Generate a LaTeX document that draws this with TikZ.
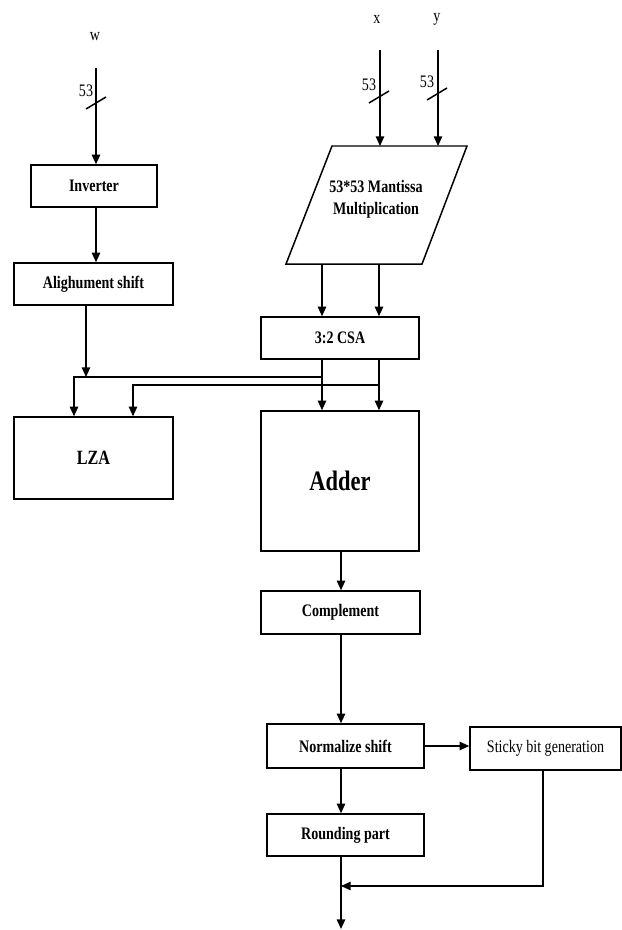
\documentclass[tikz,border=0pt]{standalone}
\usepackage{fontspec}
\setmainfont{Liberation Serif}[FakeStretch=0.8]
\usetikzlibrary{arrows.meta,calc}

% bus width mark: slash through a line plus its label
\newcommand{\buswidth}[1]{%
  \draw (#1) ++(-10,6) -- ++(20,-12);
  \node at ($(#1)+(-10,-12)$) {53};}

\begin{document}
\begin{tikzpicture}[x=0.02cm,y=-0.02cm,line width=0.85pt,
    >={Triangle[length=5.5pt,width=4.8pt]},font=\fontsize{10}{12}\selectfont,
    box/.style={draw,rectangle,inner sep=0pt,font=\fontsize{10}{12}\selectfont\bfseries}]
  \useasboundingbox (0,0) rectangle (622,930);

  % inputs
  \node (wlab) at (95,37) {w};
  \node (xlab) at (377,19) {x};
  \node (ylab) at (437,19) {y};
  \coordinate (win) at (96,68);
  \coordinate (xin) at (380,50);
  \coordinate (yin) at (438,50);

  % left branch
  \node[box,minimum width=126*0.02cm,minimum height=42*0.02cm] (inv) at (94,186) {Inverter};
  \node[box,minimum width=159*0.02cm,minimum height=42*0.02cm] (align) at (93.5,284) {Alighument shift};
  \node[box,minimum width=159*0.02cm,minimum height=82*0.02cm,font=\fontsize{11.5}{13}\selectfont\bfseries] (lza) at (93.5,458) {LZA};

  % multiplier
  \coordinate (pTL) at (332,146);
  \coordinate (pTR) at (467,146);
  \coordinate (pBR) at (422,264);
  \coordinate (pBL) at (286,264);
  \draw (pTL) -- (pTR) -- (pBR) -- (pBL) -- cycle;
  \node[align=center,font=\fontsize{10}{12.5}\selectfont\bfseries] (mul) at (376,199) {53*53 Mantissa\\Multiplication};

  % right branch
  \node[box,minimum width=158*0.02cm,minimum height=42*0.02cm] (csa) at (340,338) {3:2 CSA};
  \node[box,minimum width=158*0.02cm,minimum height=140*0.02cm,font=\fontsize{16}{18}\selectfont\bfseries] (adder) at (340,481) {Adder};
  \node[box,minimum width=159*0.02cm,minimum height=43*0.02cm] (compl) at (340.5,612.5) {Complement};
  \node[box,minimum width=157*0.02cm,minimum height=44*0.02cm] (norm) at (345.5,746) {Normalize shift};
  \node[draw,rectangle,inner sep=0pt,minimum width=151*0.02cm,minimum height=43*0.02cm] (sticky) at (545.5,748.5) {Sticky bit generation};
  \node[box,minimum width=157*0.02cm,minimum height=42*0.02cm] (round) at (345.5,835) {Rounding part};

  \coordinate (csaL) at (322,0);
  \coordinate (csaR) at (379,0);
  \coordinate (lzaL) at (74,0);
  \coordinate (lzaR) at (133,0);
  \coordinate (bus1) at (322,377);
  \coordinate (bus2) at (379,385);
  \coordinate (spine) at (341,0);
  \coordinate (stk) at (543,0);
  \coordinate (merge) at (341,886);
  \coordinate (out) at (341,929);

  % input arrows
  \draw[->] (win) -- (inv.north -| win);
  \buswidth{96,103}
  \draw[->] (xin) -- (pTL -| xin);
  \buswidth{379,97}
  \draw[->] (yin) -- (pTL -| yin);
  \buswidth{437,94}

  \draw[->] (inv.south -| win) -- (align.north -| win);
  \draw[->] (align.south -| 86,0) -- (86,377);

  \draw[->] (pBL -| csaL) -- (csa.north -| csaL);
  \draw[->] (pBL -| csaR) -- (csa.north -| csaR);
  \draw[->] (csa.south -| csaL) -- (adder.north -| csaL);
  \draw[->] (csa.south -| csaR) -- (adder.north -| csaR);
  \draw[->] (bus1) -| (lza.north -| lzaL);
  \draw[->] (bus2) -| (lza.north -| lzaR);

  \draw[->] (adder.south -| spine) -- (compl.north -| spine);
  \draw[->] (compl.south -| spine) -- (norm.north -| spine);
  \draw[->] (norm.east) -- (sticky.west |- norm.east);
  \draw[->] (norm.south -| spine) -- (round.north -| spine);
  \draw[->] (round.south -| spine) -- (out);
  \draw[->] (sticky.south -| stk) |- (merge);
\end{tikzpicture}
\end{document}
